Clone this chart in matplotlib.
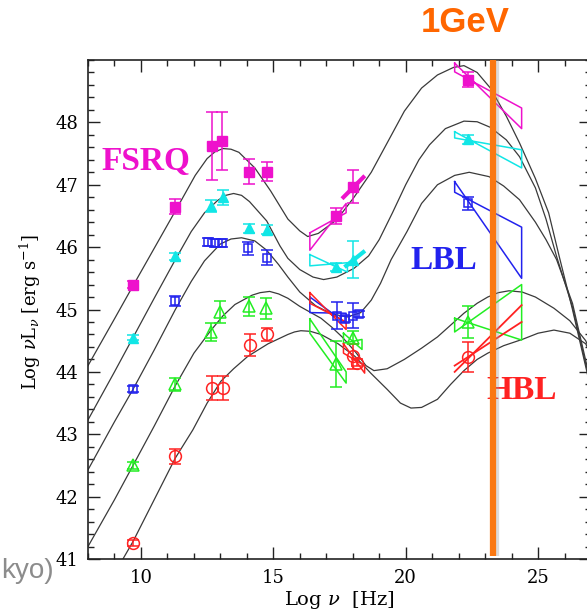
import matplotlib
matplotlib.use("Agg")
import matplotlib.pyplot as plt
import numpy as np

plt.rcParams['mathtext.fontset'] = 'dejavuserif'

#%% model curves (log nu, log nuL_nu)
fsrq_curve_x = [8.0, 9.0, 9.7, 10.5, 11.3, 12.05, 12.5, 12.8, 13.1, 13.4, 13.7, 14.3, 14.9, 15.55, 16.0, 16.3, 16.7, 17.4,
                18.05, 18.7, 19.3, 19.95, 20.6, 21.2, 21.8, 22.2, 22.7, 23.2, 23.8, 24.3, 24.9, 25.4, 25.8, 26.3, 26.9]
fsrq_curve_y = [44.1, 44.85, 45.38, 45.98, 46.58, 47.15, 47.42, 47.53, 47.58, 47.57, 47.52, 47.27, 46.9, 46.45, 46.26, 46.17,
                46.22, 46.44, 46.8, 47.2, 47.67, 48.18, 48.55, 48.76, 48.88, 48.91, 48.8, 48.55, 48.1, 47.67, 47.1, 46.55,
                45.85, 45.0, 43.9]

c2_curve_x = [8.0, 9.0, 9.7, 10.5, 11.3, 11.9, 12.4, 12.9, 13.2, 13.5, 13.8, 14.1, 14.75, 15.25, 15.55, 16.0, 16.5, 16.9,
              17.4, 18.05, 18.6, 19.0, 19.5, 20.0, 20.5, 20.9, 21.5, 22.2, 22.7, 23.2, 23.8, 24.3, 24.9, 25.3, 25.7,
              26.3, 26.9]
c2_curve_y = [43.23, 44.0, 44.55, 45.18, 45.8, 46.25, 46.55, 46.75, 46.83, 46.86, 46.83, 46.73, 46.42, 46.02, 45.82, 45.64,
              45.52, 45.48, 45.52, 45.66, 45.86, 46.12, 46.55, 47.0, 47.4, 47.64, 47.9, 48.02, 48.01, 47.92, 47.72, 47.45,
              46.95, 46.45, 45.85, 45.04, 43.95]

lbl_curve_x = [8.0, 9.0, 9.7, 10.5, 11.3, 11.9, 12.4, 13.0, 13.4, 13.8, 14.3, 14.75, 15.2, 15.55, 16.0, 16.6, 17.2, 17.8,
               18.3, 18.7, 19.05, 19.45, 20.05, 20.6, 21.2, 21.85, 22.4, 23.15, 23.7, 24.3, 24.9, 25.3, 25.7, 26.3, 26.9]
lbl_curve_y = [42.43, 43.2, 43.72, 44.35, 45.0, 45.45, 45.78, 46.05, 46.13, 46.15, 46.1, 45.95, 45.72, 45.52, 45.28, 45.06,
               44.93, 44.88, 44.95, 45.15, 45.42, 45.8, 46.25, 46.7, 47.0, 47.15, 47.2, 47.13, 46.98, 46.76, 46.4, 46.12,
               45.8, 45.1, 44.0]

c4_curve_x = [8.0, 9.0, 9.7, 10.5, 11.3, 12.0, 12.65, 13.1, 13.55, 14.2, 14.5, 14.86, 15.2, 15.55, 16.0, 16.8, 17.2, 17.6,
              18.1, 18.5, 18.8, 19.3, 19.95, 20.6, 21.2, 21.7, 22.2, 22.7, 23.1, 23.5, 23.9, 24.4, 24.9, 25.6, 26.2,
              26.8, 27.2]
c4_curve_y = [41.2, 41.95, 42.5, 43.13, 43.78, 44.3, 44.67, 44.9, 45.08, 45.23, 45.27, 45.29, 45.25, 45.18, 45.05, 44.86,
              44.72, 44.56, 44.32, 44.1, 44.02, 44.05, 44.2, 44.38, 44.56, 44.75, 44.94, 45.1, 45.2, 45.27, 45.3, 45.28,
              45.2, 45.02, 44.82, 44.5, 44.1]

hbl_curve_x = [9.0, 9.32, 9.7, 10.5, 11.3, 11.96, 12.5, 13.02, 13.5, 14.04, 14.8, 15.55, 15.8, 16.04, 16.4, 16.8, 17.45,
               18.08, 18.68, 19.3, 19.8, 20.2, 20.6, 21.2, 21.7, 22.2, 22.7, 23.1, 23.7, 24.4, 25.0, 25.6, 26.2, 26.8,
               27.2]
hbl_curve_y = [40.75, 41.0, 41.28, 41.95, 42.62, 43.07, 43.5, 43.85, 44.05, 44.25, 44.45, 44.6, 44.64, 44.66, 44.65, 44.6,
               44.45, 44.25, 43.98, 43.72, 43.5, 43.42, 43.43, 43.56, 43.8, 44.02, 44.2, 44.3, 44.42, 44.52, 44.62, 44.67,
               44.62, 44.45, 44.1]

#%% data points (x, y, error)
fsrq_x = [9.7, 11.3, 12.7, 13.05, 14.1, 14.75, 17.37, 18.0, 22.34]
fsrq_y = [45.4, 46.65, 47.62, 47.7, 47.21, 47.21, 46.5, 46.97, 48.68]
fsrq_e = [0.05, 0.12, 0.55, 0.47, 0.2, 0.15, 0.13, 0.27, 0.12]

cyan_x = [9.7, 11.3, 12.65, 13.1, 14.1, 14.75, 17.37, 18.0, 22.34]
cyan_y = [44.55, 45.85, 46.66, 46.8, 46.3, 46.28, 45.68, 45.8, 47.73]
cyan_e = [0.04, 0.05, 0.1, 0.12, 0.07, 0.07, 0.06, 0.3, 0.07]

lbl_x = [9.7, 11.3, 12.55, 12.8, 13.05, 14.05, 14.75, 17.4, 17.7, 18.0, 18.25, 22.35]
lbl_y = [43.72, 45.13, 46.08, 46.07, 46.07, 45.98, 45.83, 44.9, 44.85, 44.9, 44.93, 46.7]
lbl_e = [0.05, 0.08, 0.06, 0.06, 0.06, 0.1, 0.12, 0.22, 0.05, 0.2, 0.05, 0.1]

green_x = [9.7, 11.3, 12.64, 13.0, 14.1, 14.72, 17.37, 18.0, 22.34]
green_y = [42.5, 43.8, 44.64, 44.96, 45.05, 45.02, 44.12, 44.55, 44.8]
green_e = [0.06, 0.1, 0.14, 0.17, 0.15, 0.17, 0.37, 0.1, 0.25]

hbl_x = [9.7, 11.3, 12.68, 13.1, 14.11, 14.75, 18.0, 18.15, 22.34]
hbl_y = [41.26, 42.65, 43.74, 43.74, 44.43, 44.6, 44.25, 44.15, 44.24]
hbl_e = [0.05, 0.12, 0.19, 0.19, 0.17, 0.1, 0.2, 0.05, 0.24]

# bowties: x_left, x_right, line1 (y_left, y_right), line2 (y_left, y_right)
bow_fsrq = [(16.38, 17.75, 46.23, 46.55, 45.95, 46.7), (21.85, 24.38, 48.95, 47.9, 48.81, 48.23)]
bow_cyan = [(16.38, 17.8, 45.88, 45.6, 45.7, 45.75), (21.85, 24.38, 47.85, 47.27, 47.75, 47.56)]
bow_lbl = [(16.38, 17.75, 45.2, 44.78, 44.95, 44.94), (21.85, 24.38, 47.05, 45.5, 46.88, 46.32)]
bow_green = [(16.38, 17.75, 44.85, 44.0, 44.62, 43.82), (17.65, 18.35, 44.62, 44.36, 44.46, 44.52),
             (21.85, 24.38, 44.86, 44.51, 44.64, 45.4)]
bow_hbl = [(16.38, 17.75, 45.27, 44.68, 45.1, 44.8), (17.65, 18.45, 44.45, 43.98, 44.3, 44.1)]
# thick short slopes at ~18
thick_fsrq = ([17.65, 18.4], [46.8, 47.12])
thick_cyan = ([17.75, 18.4], [45.7, 45.92])
# open gamma slopes of the HBL
hbl_gamma = [([21.85, 24.38], [44.0, 45.07]), ([21.85, 24.38], [44.1, 44.8])]

one_gev = 23.3

MAGENTA = '#ee11cc'
CYAN = '#11e6e6'
BLUE = '#2222ee'
GREEN = '#22ee22'
RED = '#ff2222'
ORANGE = '#fa7812'
CURVE = '#3a3a3a'


def draw_bow(ax, b, col):
    xl, xr, a1, a2, b1, b2 = b
    ax.plot([xl, xr, xr, xl, xl], [a1, a2, b2, b1, a1], color=col, lw=1.1, zorder=3)


fig = plt.figure(figsize=(5.87, 6.13), dpi=100)
ax = fig.add_axes([88/587, 54/613, 503/587, 499/613])

for cx, cy in [(fsrq_curve_x, fsrq_curve_y), (c2_curve_x, c2_curve_y), (lbl_curve_x, lbl_curve_y),
               (c4_curve_x, c4_curve_y), (hbl_curve_x, hbl_curve_y)]:
    ax.plot(cx, cy, color=CURVE, lw=0.9, zorder=2, solid_joinstyle='round')

for b in bow_fsrq:
    draw_bow(ax, b, MAGENTA)
for b in bow_cyan:
    draw_bow(ax, b, CYAN)
for b in bow_lbl:
    draw_bow(ax, b, BLUE)
for b in bow_green:
    draw_bow(ax, b, GREEN)
for b in bow_hbl:
    draw_bow(ax, b, RED)
ax.plot(*thick_fsrq, color=MAGENTA, lw=3, zorder=3)
ax.plot(*thick_cyan, color=CYAN, lw=3, zorder=3)
for lx, ly in hbl_gamma:
    ax.plot(lx, ly, color=RED, lw=1.3, zorder=3)

ekw = dict(linestyle='none', capsize=4, elinewidth=1.1, capthick=1.1, zorder=4)
ax.errorbar(fsrq_x, fsrq_y, yerr=fsrq_e, marker='s', ms=6.5, color=MAGENTA, mfc=MAGENTA, **ekw)
ax.errorbar(cyan_x, cyan_y, yerr=cyan_e, marker='^', ms=7, color=CYAN, mfc=CYAN, **ekw)
ax.errorbar(lbl_x, lbl_y, yerr=lbl_e, marker='s', ms=6, color=BLUE, mfc='none', mew=1.1, **ekw)
ax.errorbar(green_x, green_y, yerr=green_e, marker='^', ms=8, color=GREEN, mfc='none', mew=1.1, **ekw)
ax.errorbar(hbl_x, hbl_y, yerr=hbl_e, marker='o', ms=8.5, color=RED, mfc='none', mew=1.1, **ekw)

# 1 GeV line with a soft shadow
ax.plot([one_gev + 0.08, one_gev + 0.08], [41.05, 49.0], color='#999999', lw=6, alpha=0.35,
        solid_capstyle='butt', zorder=5, clip_on=False)
ax.plot([one_gev, one_gev], [41.05, 49.0], color=ORANGE, lw=4.5, solid_capstyle='butt', zorder=6, clip_on=False)

ax.text(10.19, 47.38, 'FSRQ', color=MAGENTA, fontsize=24, fontweight='bold', family='Liberation Serif',
        ha='center', va='center')
ax.text(21.43, 45.78, 'LBL', color=BLUE, fontsize=24, fontweight='bold', family='Liberation Serif',
        ha='center', va='center')
ax.text(24.38, 43.7, 'HBL', color=RED, fontsize=24, fontweight='bold', family='Liberation Serif',
        ha='center', va='center')

ax.set_xlim(8, 27)
ax.set_ylim(41, 49)
ax.set_xticks([10, 15, 20, 25])
ax.set_xticks(np.arange(8, 28, 1), minor=True)
ax.set_yticks(np.arange(41, 49, 1))
ax.set_yticks(np.arange(41, 49.01, 0.2), minor=True)
ax.tick_params(which='both', direction='in', top=True, right=True, color='#222222', width=1.0)
ax.tick_params(which='major', length=8.5, pad=7, labelsize=13)
ax.tick_params(which='minor', length=4.5)
for lab in ax.get_xticklabels() + ax.get_yticklabels():
    lab.set_family('DejaVu Serif')
for sp in ax.spines.values():
    sp.set_color('#222222')
    sp.set_linewidth(1.2)

fig.text(30/587, 1 - 312/613, r'Log $\nu$L$_\nu$ [erg s$^{-1}$]', rotation=90, ha='center', va='center',
         fontsize=13, family='DejaVu Serif')
fig.text(339/587, 1 - 600/613, r'Log $\nu$  [Hz]', ha='center', va='center', fontsize=14, family='DejaVu Serif')
fig.text(465/587, 1 - 22/613, '1GeV', color='#ff6600', fontsize=25, fontweight='bold', family='Liberation Sans',
         ha='center', va='center')
# fragment of a slide caption visible at the left edge
fig.text(1/587, 1 - 578/613, 'kyo)', color='#8c8c8c', fontsize=20, family='Liberation Sans',
         ha='left', va='baseline')

fig.savefig('out.png', dpi=100)
